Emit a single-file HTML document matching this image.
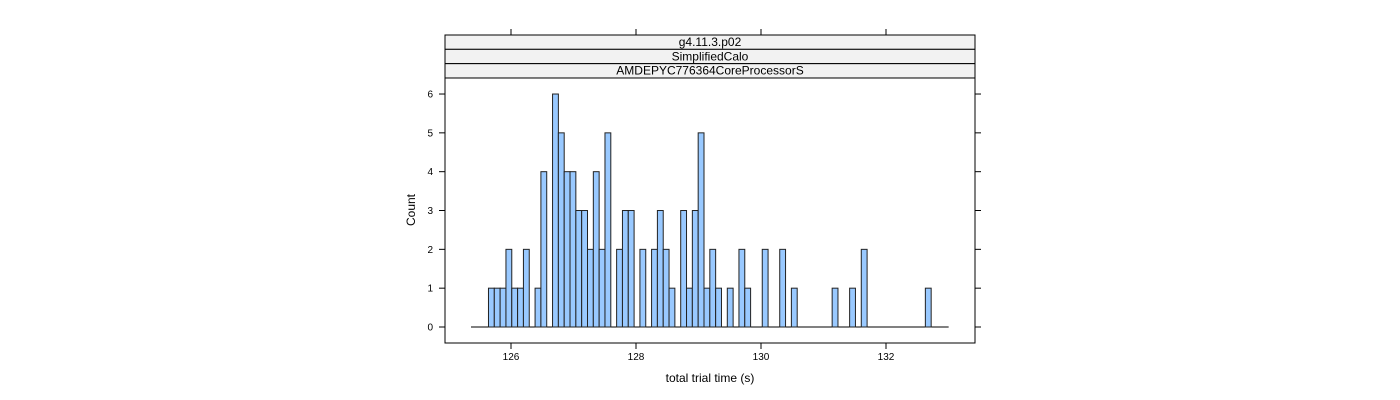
<!DOCTYPE html>
<html><head><meta charset="utf-8"><style>
body{margin:0;background:#fff;}
svg{display:block;font-family:"Liberation Sans",sans-serif;}
</style></head><body>
<svg id="chart" width="1400" height="400" viewBox="0 0 1400 400"></svg>
<script>
const binStart = 125.36;
const binWidth = 0.0932;
const binCounts = [0,0,0,1,1,1,2,1,1,2,0,1,4,0,6,5,4,4,3,3,2,4,2,5,0,2,3,3,0,2,0,2,3,2,1,0,3,1,3,5,1,2,1,0,1,0,2,1,0,0,2,0,0,2,0,1,0,0,0,0,0,0,1,0,0,1,0,2,0,0,0,0,0,0,0,0,0,0,1,0,0,0];
const xTicks = [126,128,130,132];
const yTicks = [0,1,2,3,4,5,6];
const stripLabels = ["g4.11.3.p02","SimplifiedCalo","AMDEPYC776364CoreProcessorS"];

const NS="http://www.w3.org/2000/svg";
const svg=document.getElementById('chart');
const L=445,R=975,T=78,B=343,ST=35;
const xs=v=>511+(v-126)*62.5;
const ys=v=>327-v*38.83;
function mk(tag,attrs,parent){const e=document.createElementNS(NS,tag);for(const k in attrs)e.setAttribute(k,attrs[k]);(parent||svg).appendChild(e);return e;}

// strips
stripLabels.forEach((s,i)=>{
  const y=ST+i*14.33;
  const r=mk('rect',{x:L,y:y,width:R-L,height:14.33,fill:'#f2f2f2',stroke:'#000','stroke-width':1});
  
  
  const t=mk('text',{x:(L+R)/2,y:y+11,'text-anchor':'middle','font-size':12,fill:'#000'});
  t.textContent=s;
  
  
});
// panel
const p=mk('rect',{x:L,y:T,width:R-L,height:B-T,fill:'none',stroke:'#000','stroke-width':1});



// baseline
const bl=mk('line',{x1:xs(binStart),x2:xs(binStart+binWidth*binCounts.length),y1:ys(0),y2:ys(0),stroke:'#000','stroke-width':1});



// bars
binCounts.forEach((c,i)=>{
  if(c<=0)return;
  const x0=xs(binStart+i*binWidth),x1=xs(binStart+(i+1)*binWidth);
  const b=mk('rect',{x:x0,y:ys(c),width:x1-x0,height:ys(0)-ys(c),fill:'#99c9ff',stroke:'#222','stroke-width':1});
  
  
});

// x ticks
xTicks.forEach(v=>{
  const x=xs(v);
  mk('line',{x1:x,x2:x,y1:B,y2:B+6,stroke:'#000'});
  mk('line',{x1:x,x2:x,y1:ST,y2:ST-6,stroke:'#000'});
  const t=mk('text',{x:x,y:B+17,'text-anchor':'middle','font-size':10});
  t.textContent=v;
  
  
});
// y ticks
yTicks.forEach(v=>{
  const y=ys(v);
  mk('line',{x1:L,x2:L-6,y1:y,y2:y,stroke:'#000'});
  mk('line',{x1:R,x2:R+6,y1:y,y2:y,stroke:'#000'});
  const t=mk('text',{x:L-12,y:y+3.5,'text-anchor':'end','font-size':10});
  t.textContent=v;
  
  
});
const xl=mk('text',{x:(L+R)/2,y:382,'text-anchor':'middle','font-size':12});
xl.textContent='total trial time (s)';


const yl=mk('text',{x:0,y:0,'text-anchor':'middle','font-size':12,transform:'translate(415,210) rotate(-90)'});
yl.textContent='Count';


</script>
</body></html>
